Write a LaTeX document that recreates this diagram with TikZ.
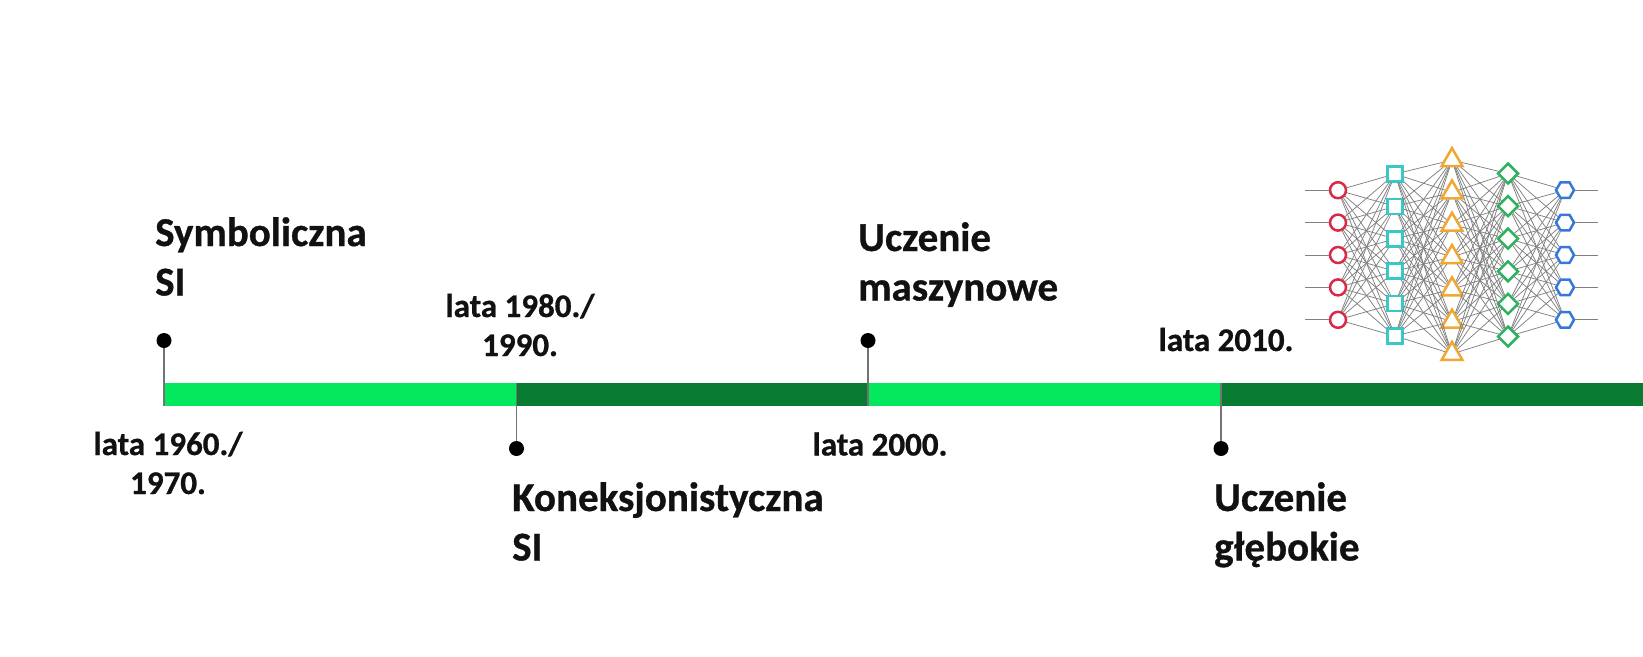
\documentclass[tikz,border=0pt]{standalone}
\usepackage{fontspec}
\setmainfont{Carlito}[BoldFeatures={FakeBold=0.8}]
\usetikzlibrary{shapes.geometric}
\definecolor{barlight}{RGB}{4,232,94}
\definecolor{bardark}{RGB}{8,122,50}
\definecolor{nnred}{RGB}{216,42,72}
\definecolor{nncyan}{RGB}{56,200,200}
\definecolor{nnorange}{RGB}{240,168,48}
\definecolor{nngreen}{RGB}{44,178,92}
\definecolor{nnblue}{RGB}{52,120,220}
\definecolor{txt}{RGB}{17,17,17}
\begin{document}
\begin{tikzpicture}[x=1pt,y=-1pt,
  title/.style={font=\fontsize{41}{49.5}\selectfont\bfseries, text=txt, align=left, inner sep=0pt, anchor=base west},
  datelbl/.style={font=\fontsize{33}{39}\selectfont\bfseries, text=txt, align=center, inner sep=0pt, anchor=base},
  dot/.style={circle, fill=black, minimum size=15pt, inner sep=0pt},
  tick/.style={draw=black!55, line width=1.2pt},
  nnedge/.style={draw=black!50, line width=0.75pt},
  nnbase/.style={draw, fill=white, line width=2.5pt, inner sep=0pt},
  ncirc/.style={nnbase, circle, draw=nnred, minimum size=16pt},
  nsq/.style={nnbase, rectangle, draw=nncyan, minimum size=15pt},
  ntri/.style={nnbase, regular polygon, regular polygon sides=3, draw=nnorange, minimum size=24pt},
  ndia/.style={nnbase, diamond, draw=nngreen, minimum size=21pt},
  nhex/.style={nnbase, regular polygon, regular polygon sides=6, draw=nnblue, minimum size=18pt}
]
\useasboundingbox (0,0) rectangle (1643,656);

% timeline bar
\fill[barlight] (164,382.5) rectangle (516.5,405.5);
\fill[bardark] (516.5,382.5) rectangle (868,405.5);
\fill[barlight] (868,382.5) rectangle (1221,405.5);
\fill[bardark] (1221,382.5) rectangle (1643,405.5);

% dots and ticks
\node[dot] (d1) at (164,340.5) {};
\node[dot] (d2) at (516.5,448.5) {};
\node[dot] (d3) at (868,340.5) {};
\node[dot] (d4) at (1221,448.5) {};
\coordinate (b1) at (164,405.5);
\coordinate (b2) at (516.5,382.5);
\coordinate (b3) at (868,405.5);
\coordinate (b4) at (1221,382.5);
\draw[tick] (d1) -- (b1);
\draw[tick] (d2) -- (b2);
\draw[tick] (d3) -- (b3);
\draw[tick] (d4) -- (b4);

% labels (anchor = baseline of the last line)
\node[title] (t1) at (155,295.5) {Symboliczna\\SI};
\node[title] (t2) at (512,560.5) {Koneksjonistyczna\\SI};
\node[title] (t3) at (858,300.5) {Uczenie\\maszynowe};
\node[title] (t4) at (1214,560.5) {Uczenie\\głębokie};
\node[datelbl] (y1) at (168,494) {lata 1960./\\1970.};
\node[datelbl] (y2) at (520,356) {lata 1980./\\1990.};
\node[datelbl] (y3) at (880,455.5) {lata 2000.};
\node[datelbl] (y4) at (1226,351) {lata 2010.};

% neural network
\foreach \i in {1,...,5} \node[ncirc] (a\i) at (1338,{255+(\i-3)*32.4}) {};
\foreach \i in {1,...,6} \node[nsq] (b\i) at (1395,{255+(\i-3.5)*32.4}) {};
\foreach \i in {1,...,7} \node[ntri] (c\i) at (1452,{257+(\i-4)*32.3}) {};
\foreach \i in {1,...,6} \node[ndia] (e\i) at (1508,{255+(\i-3.5)*32.6}) {};
\foreach \i in {1,...,5} \node[nhex] (f\i) at (1565,{255+(\i-3)*32.4}) {};

\foreach \i in {1,...,5} {
  \coordinate (in\i) at (1305,{255+(\i-3)*32.4});
  \coordinate (out\i) at (1598,{255+(\i-3)*32.4});
  \draw[nnedge] (in\i) -- (a\i);
  \draw[nnedge] (f\i) -- (out\i);
}
\foreach \i in {1,...,5} \foreach \j in {1,...,6} \draw[nnedge] (a\i) -- (b\j);
\foreach \i in {1,...,6} \foreach \j in {1,...,7} \draw[nnedge] (b\i) -- (c\j);
\foreach \i in {1,...,7} \foreach \j in {1,...,6} \draw[nnedge] (c\i) -- (e\j);
\foreach \i in {1,...,6} \foreach \j in {1,...,5} \draw[nnedge] (e\i) -- (f\j);
\end{tikzpicture}
\end{document}
